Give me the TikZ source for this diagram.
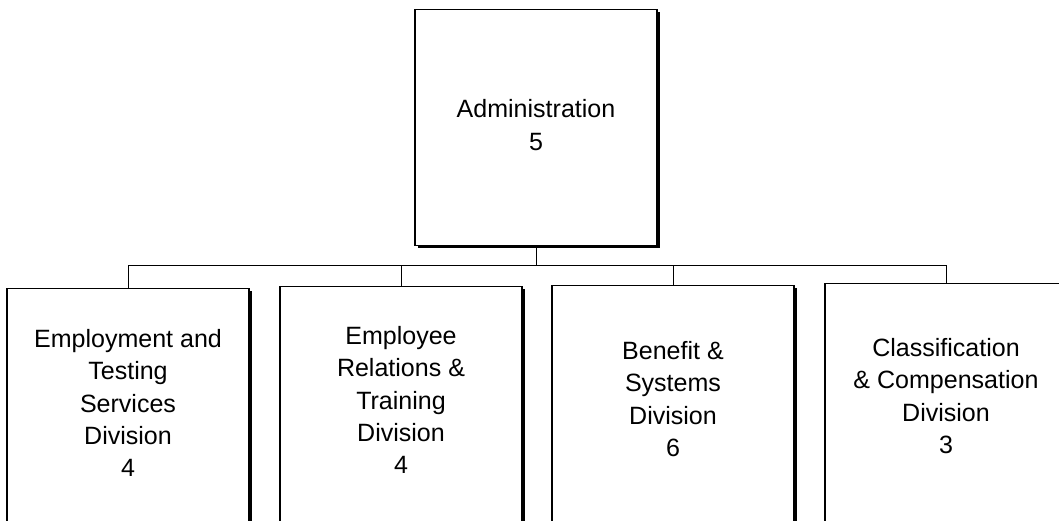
\documentclass[tikz,border=0pt]{standalone}
\usepackage{fontspec}
\setmainfont{Liberation Sans}
\usetikzlibrary{shadows}

\begin{document}
\begin{tikzpicture}[x=0.025cm, y=-0.025cm,
    unitbox/.style={draw, line width=0.8pt, fill=white, rectangle,
        minimum width=6.05cm, minimum height=5.9cm, anchor=north,
        drop shadow={shadow xshift=2pt, shadow yshift=-1.5pt, fill=black, opacity=1}},
    divbox/.style={unitbox, minimum height=6.6cm},
    unittext/.style={align=center, font=\fontsize{17.8}{23}\selectfont},
    link/.style={line width=0.6pt}]
    \useasboundingbox (0,0) rectangle (1059,520);

    % Oficina principal
    \node[unitbox] (admin) at (536,9) {};
    \node[unittext] (admin-t) at (536,125) {Administration\\5};

    % Divisiones
    \node[divbox] (emp) at (128,288) {};
    \node[divbox] (rel) at (401,286) {};
    \node[divbox] (ben) at (673,285) {};
    \node[divbox] (cls) at (946,283) {};

    \node[unittext] (emp-t) at (128,403) {Employment and\\Testing\\Services\\Division\\4};
    \node[unittext] (rel-t) at (401,400) {Employee\\Relations \&\\Training\\Division\\4};
    \node[unittext] (ben-t) at (673,399) {Benefit \&\\Systems\\Division\\6};
    \node[unittext] (cls-t) at (946,396) {Classification\\\& Compensation\\Division\\3};

    % Conectores
    \coordinate (bar) at (536,265);
    \draw[link] (admin.south) -- (bar);
    \draw[link] (bar) -| (emp.north);
    \draw[link] (bar) -| (rel.north);
    \draw[link] (bar) -| (ben.north);
    \draw[link] (bar) -| (cls.north);
\end{tikzpicture}
\end{document}
